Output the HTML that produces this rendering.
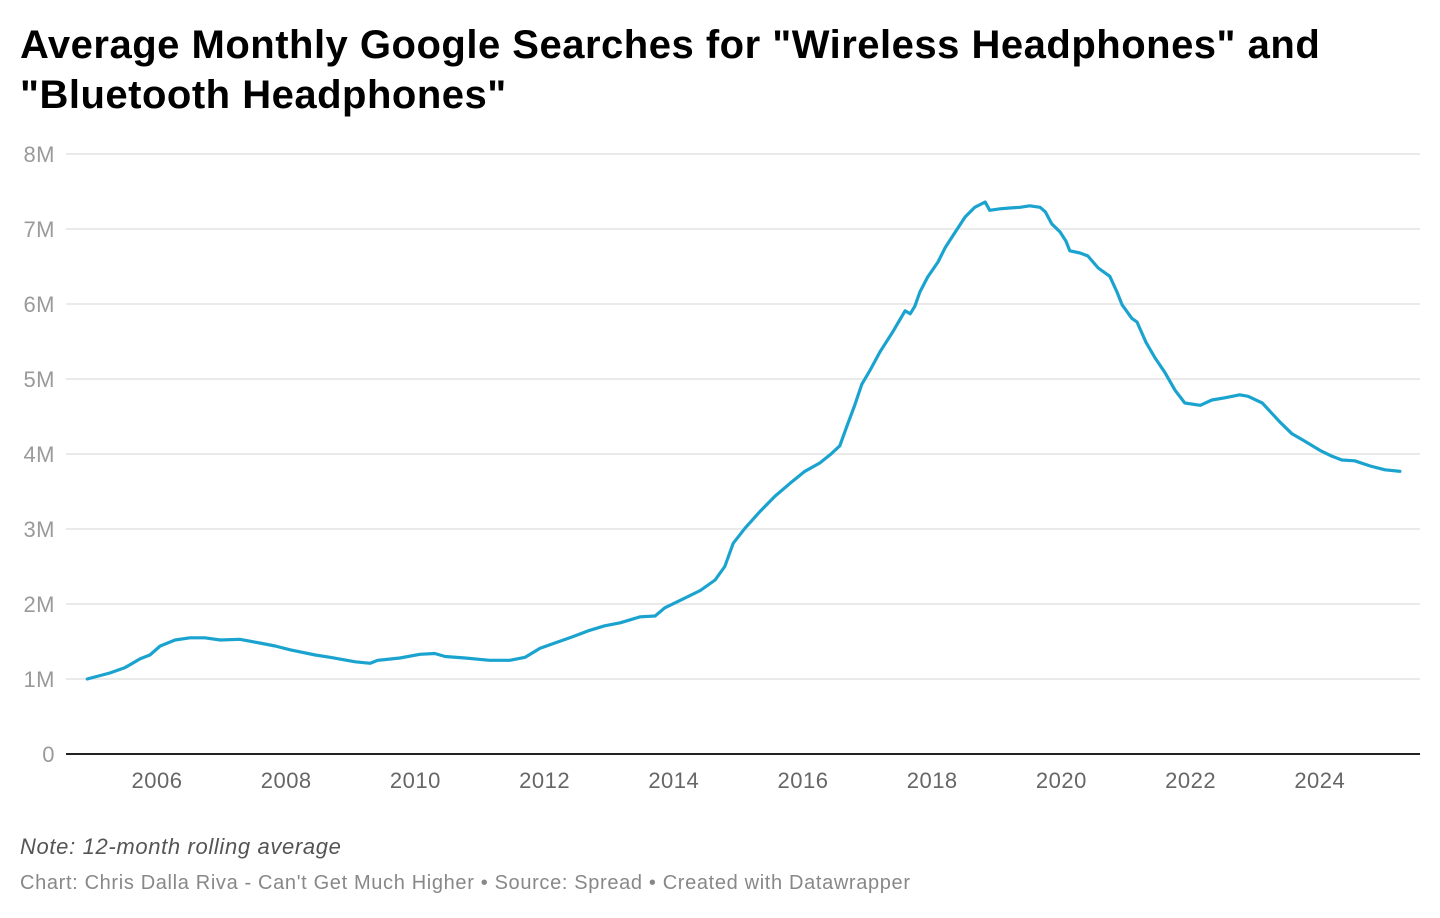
<!DOCTYPE html>
<html><head><meta charset="utf-8"><style>
body{margin:0;width:1440px;height:918px;background:#fff;font-family:"Liberation Sans",sans-serif;overflow:hidden;position:relative}
h1{position:absolute;left:20px;top:20px;margin:0;font-size:40px;line-height:50px;font-weight:bold;color:#000;letter-spacing:0.5px}
.note{position:absolute;left:20px;top:834px;font-size:22px;font-style:italic;color:#555;letter-spacing:0.65px}
.foot{position:absolute;left:20px;top:872px;font-size:20px;color:#888;letter-spacing:0.65px}
svg{position:absolute;left:0;top:0}
</style></head><body>
<h1>Average Monthly Google Searches for "Wireless Headphones" and<br>"Bluetooth Headphones"</h1>
<svg id="chart" width="1440" height="918"></svg>
<div class="note">Note: 12-month rolling average</div>
<div class="foot">Chart: Chris Dalla Riva - Can't Get Much Higher • Source: Spread • Created with Datawrapper</div>
<script>
const years=[2004.92,2005.27,2005.50,2005.74,2005.89,2006.05,2006.28,2006.51,2006.74,2006.98,2007.28,2007.59,2007.83,2008.06,2008.45,2008.68,2009.07,2009.30,2009.42,2009.76,2010.07,2010.30,2010.46,2010.77,2011.15,2011.46,2011.70,2011.93,2012.16,2012.39,2012.70,2012.93,2013.17,2013.48,2013.71,2013.86,2014.10,2014.41,2014.64,2014.79,2014.92,2015.10,2015.33,2015.57,2015.80,2016.03,2016.26,2016.42,2016.57,2016.67,2016.80,2016.91,2017.04,2017.19,2017.39,2017.58,2017.66,2017.73,2017.81,2017.93,2018.09,2018.20,2018.35,2018.51,2018.66,2018.82,2018.89,2019.05,2019.20,2019.36,2019.51,2019.67,2019.75,2019.85,2019.98,2020.07,2020.13,2020.29,2020.41,2020.57,2020.75,2020.86,2020.94,2021.09,2021.17,2021.31,2021.45,2021.60,2021.76,2021.91,2022.15,2022.33,2022.53,2022.76,2022.89,2023.11,2023.38,2023.57,2023.77,2024.00,2024.19,2024.34,2024.54,2024.78,2025.01,2025.24];
const searches=[1.0,1.08,1.15,1.27,1.32,1.44,1.52,1.55,1.55,1.52,1.53,1.48,1.44,1.39,1.32,1.29,1.23,1.21,1.25,1.28,1.33,1.34,1.30,1.28,1.25,1.25,1.29,1.41,1.48,1.55,1.65,1.71,1.75,1.83,1.84,1.95,2.05,2.18,2.32,2.5,2.81,3.01,3.23,3.44,3.61,3.77,3.88,3.99,4.11,4.35,4.65,4.93,5.12,5.36,5.63,5.91,5.87,5.97,6.16,6.36,6.56,6.75,6.95,7.16,7.29,7.36,7.25,7.27,7.28,7.29,7.31,7.29,7.23,7.07,6.96,6.84,6.71,6.68,6.64,6.48,6.37,6.16,5.99,5.81,5.76,5.49,5.28,5.09,4.85,4.68,4.65,4.72,4.75,4.79,4.77,4.68,4.43,4.27,4.17,4.05,3.97,3.92,3.91,3.84,3.79,3.77];
const yTicks=[0,1,2,3,4,5,6,7,8];
const yTickLabels=["0","1M","2M","3M","4M","5M","6M","7M","8M"];
const xTicks=[2006,2008,2010,2012,2014,2016,2018,2020,2022,2024];
const NS="http://www.w3.org/2000/svg";
const svg=document.getElementById('chart');
const xs=y=>157+(y-2006)*64.6;
const ys=v=>754-v*75;
function mk(t,a){const e=document.createElementNS(NS,t);for(const k in a)e.setAttribute(k,a[k]);svg.appendChild(e);return e;}
yTicks.forEach((v,i)=>{
  if(v>0){const g=mk('line',{x1:66,x2:1420,y1:ys(v),y2:ys(v),stroke:'#e3e3e3','stroke-width':1.5});
  
  }
  const t=mk('text',{x:55,y:ys(v)+8,'text-anchor':'end','font-size':22,'letter-spacing':0.5,fill:'#9a9a9a','font-family':'Liberation Sans, sans-serif'});
  t.textContent=yTickLabels[i];
  
  
});
xTicks.forEach(y=>{
  const t=mk('text',{x:xs(y),y:788,'text-anchor':'middle','font-size':22,'letter-spacing':0.5,fill:'#666','font-family':'Liberation Sans, sans-serif'});
  t.textContent=y;
  
  
});
const base=mk('line',{x1:66,x2:1420,y1:754,y2:754,stroke:'#222','stroke-width':2});


const d=years.map((y,i)=>(i?'L':'M')+xs(y).toFixed(1)+','+ys(searches[i]).toFixed(1)).join('');
const p=mk('path',{d:d,fill:'none',stroke:'#1ba3d0','stroke-width':3.2,'stroke-linejoin':'round','stroke-linecap':'round'});


</script>
</body></html>
